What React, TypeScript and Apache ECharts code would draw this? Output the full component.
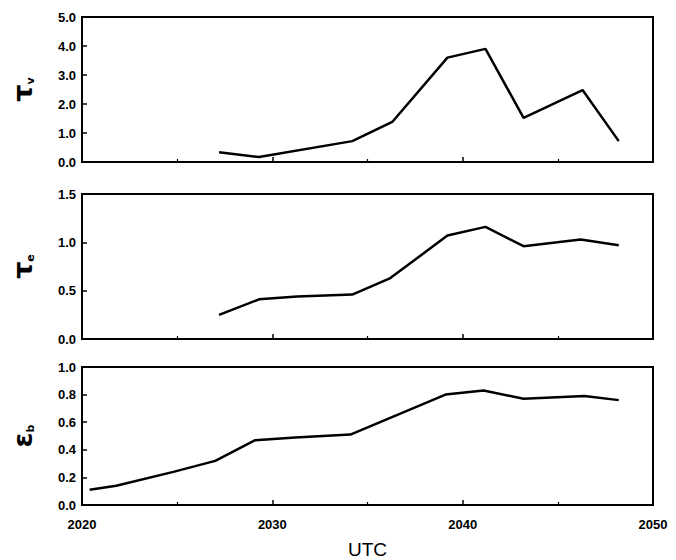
import React, { useEffect, useRef } from "react";
import * as echarts from "echarts";

const yearsTauV = [2027.2, 2029.3, 2034.2, 2036.3, 2039.2, 2041.2, 2043.2, 2046.3, 2048.2];
const tauV = [0.34, 0.17, 0.72, 1.38, 3.6, 3.9, 1.52, 2.48, 0.72];

const yearsTauE = [2027.2, 2029.3, 2031.3, 2034.2, 2036.2, 2039.2, 2041.2, 2043.2, 2046.2, 2048.2];
const tauE = [0.25, 0.41, 0.44, 0.46, 0.63, 1.07, 1.16, 0.96, 1.03, 0.97];

const yearsEpsB = [2020.4, 2021.8, 2024.8, 2027.0, 2029.1, 2031.2, 2034.1, 2039.1, 2041.1, 2043.2, 2046.4, 2048.2];
const epsB = [0.11, 0.14, 0.24, 0.32, 0.47, 0.49, 0.51, 0.8, 0.83, 0.77, 0.79, 0.76];

const xTicks = [2020, 2030, 2040, 2050];

const pair = (xs: number[], ys: number[]) => xs.map((x, i) => [x, ys[i]]);

export default function App() {
  const ref = useRef<HTMLDivElement>(null);
  useEffect(() => {
    if (!ref.current) return;
    const chart = echarts.init(ref.current, null, { renderer: "svg" });
    const tops = [17, 194, 367];
    const h = 145;
    const grids = tops.map((t) => ({
      left: 82,
      right: 23,
      top: t,
      height: h,
      show: true,
      borderColor: "#000",
      borderWidth: 2,
      backgroundColor: "transparent",
    }));
    const labelFont = { fontFamily: "Liberation Sans, Arial", fontWeight: "bold" as const, color: "#000" };
    const xAxes = [0, 1, 2].map((i) => ({
      type: "value" as const,
      gridIndex: i,
      min: xTicks[0],
      max: xTicks[xTicks.length - 1],
      interval: 10,
      axisLine: { show: true, lineStyle: { color: "#000", width: 2 } },
      axisTick: { show: true, inside: true, length: 5, lineStyle: { color: "#000", width: 1.5 } },
      minorTick: { show: true, splitNumber: 2, length: 3, lineStyle: { color: "#000", width: 1.2 } },
      splitLine: { show: false },
      axisLabel: {
        show: i === 2,
        ...labelFont,
        fontSize: 13,
        margin: 13,
        formatter: (v: number) => String(v),
      },
      name: i === 2 ? "UTC" : "",
      nameLocation: "middle" as const,
      nameGap: 35,
      nameTextStyle: { fontFamily: "Liberation Sans, Arial", fontSize: 19, color: "#000" },
    }));
    const yCfg = [
      { max: 5, interval: 1, name: "{t|τ}{s|v}" },
      { max: 1.5, interval: 0.5, name: "{t|τ}{s|e}" },
      { max: 1.0, interval: 0.2, name: "{t|ε}{s|b}" },
    ];
    const yAxes = yCfg.map((c, i) => ({
      type: "value" as const,
      gridIndex: i,
      min: 0,
      max: c.max,
      interval: c.interval,
      axisLine: { show: true, lineStyle: { color: "#000", width: 2 } },
      axisTick: { show: true, inside: true, length: 5, lineStyle: { color: "#000", width: 1.5 } },
      splitLine: { show: false },
      axisLabel: { ...labelFont, fontSize: 13, margin: 6, formatter: (v: number) => v.toFixed(1) },
      name: c.name,
      nameLocation: "middle" as const,
      nameRotate: 90,
      nameGap: 46,
      nameTextStyle: {
        rich: {
          t: { fontFamily: "DejaVu Sans", fontWeight: "bold", fontSize: 27, color: "#000" },
          s: { fontFamily: "DejaVu Sans", fontWeight: "bold", fontSize: 11, color: "#000", verticalAlign: "bottom", padding: [14, 0, 0, 0] },
        },
      },
    }));
    const line = (i: number, data: number[][]) => ({
      type: "line" as const,
      xAxisIndex: i,
      yAxisIndex: i,
      data,
      showSymbol: false,
      symbol: "none",
      lineStyle: { color: "#000", width: 2.5 },
    });
    chart.setOption({
      animation: false,
      backgroundColor: "#fff",
      grid: grids,
      xAxis: xAxes,
      yAxis: yAxes,
      series: [
        line(0, pair(yearsTauV, tauV)),
        line(1, pair(yearsTauE, tauE)),
        line(2, pair(yearsEpsB, epsB)),
      ],
    });
    return () => chart.dispose();
  }, []);
  return <div ref={ref} style={{ width: 676, height: 560, position: "absolute", left: 0, top: 0 }} />;
}
